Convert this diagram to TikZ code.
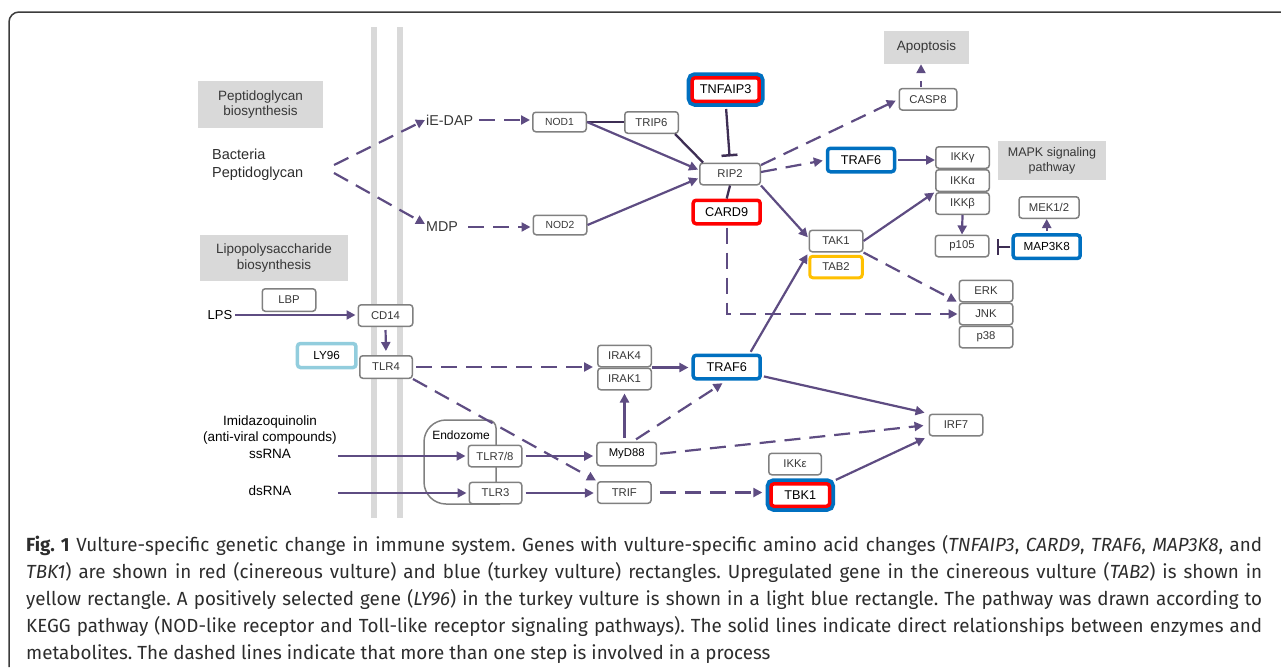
\documentclass[tikz,border=0pt]{standalone}
\usepackage{fontspec}
\setmainfont{Liberation Sans}
\newfontfamily\capfont[FakeStretch=0.99]{Fira Sans}
\usepackage{tikz}
\usetikzlibrary{arrows.meta,calc,positioning}
\definecolor{pathpurple}{RGB}{94,76,130}
\definecolor{inhibdark}{RGB}{62,46,84}
\definecolor{boxgray}{RGB}{128,128,128}
\definecolor{genegray}{RGB}{55,55,55}
\definecolor{bandgray}{RGB}{217,217,217}
\definecolor{framegray}{RGB}{60,60,60}
\definecolor{captext}{RGB}{45,45,45}
\definecolor{vulred}{RGB}{255,0,0}
\definecolor{vulblue}{RGB}{0,112,192}
\definecolor{vulyellow}{RGB}{255,192,0}
\definecolor{lyblue}{RGB}{146,205,221}
\newcommand{\fsize}[2]{\fontsize{#1}{#2}\selectfont}
\tikzset{%
	gene/.style     = {draw=boxgray, line width=1.5pt, fill=white, rounded corners=3pt, minimum width=53.5pt, minimum height=21.5pt, inner sep=0pt, text=genegray, font=\fsize{11.3}{13}}, % KEGG box
	redgene/.style  = {gene, draw=vulred, line width=3.5pt, text=black, minimum width=67pt, minimum height=23.5pt, font=\fsize{12.7}{14}}, % cinereous vulture
	bluegene/.style = {redgene, draw=vulblue}, % turkey vulture
	bothgene/.style = {redgene, preaction={draw=vulblue, line width=11pt}}, % both
	goldgene/.style = {gene, draw=vulyellow, line width=3pt, minimum width=52.5pt}, % upregulated
	lygene/.style   = {gene, draw=lyblue, line width=3.5pt, minimum width=58.5pt, minimum height=24pt, text=black, font=\fsize{11.7}{13}}, % positively selected
	mapbox/.style   = {fill=bandgray, inner sep=0pt, align=center, text=genegray, font=\fsize{13.5}{15.7}}, % pathway map
	lbl/.style      = {inner sep=1pt, text=black, font=\fsize{13.5}{16.7}}, % plain label
	flow/.style     = {pathpurple, line width=2.2pt, -{Triangle[length=9pt,width=9pt]}},
	dflow/.style    = {flow, dash pattern=on 16pt off 9pt},
	link/.style     = {inhibdark, line width=2.3pt},
	inhibit/.style  = {link, -{Bar[width=16pt,line width=2.5pt]}},
	caption/.style  = {anchor=north west, inner sep=0pt, align=left, text=captext, font=\capfont\fsize{19}{27}\frenchspacing},
}
\begin{document}
\begin{tikzpicture}[x=1pt,y=-1pt,node distance=23pt]
	\useasboundingbox (0,0) rectangle (1281,667);
	\draw [framegray, line width=1.5pt, rounded corners=10pt] (9,667) -- (9,12) -- (1281,12);
	% membrane
	\fill [bandgray] (371,27) rectangle (377,518);
	\fill [bandgray] (397,27) rectangle (403,518);
	% endozome
	\draw [boxgray, line width=1.5pt] (496,490) [rounded corners=8pt] -- (496,420) [rounded corners=22pt] -- (424,420) -- (424,504) -- (500,504);
	\node [lbl, font=\fsize{12}{14}] (endo) at (461,435) {Endozome};

	% pathway maps
	\node [mapbox, minimum width=125pt, minimum height=47pt] (pepmap) at (260.5,104.5) {Peptidoglycan\\biosynthesis};
	\node [mapbox, minimum width=148pt, minimum height=46pt, font=\fsize{13.5}{16}] (lipomap) at (274,258) {Lipopolysaccharide\\biosynthesis};
	\node [mapbox, minimum width=85pt, minimum height=33pt] (apop) at (926.5,47.5) {Apoptosis};
	\node [mapbox, minimum width=108pt, minimum height=39pt, font=\fsize{12.5}{15}] (mapk) at (1052,160.5) {MAPK signaling\\pathway};

	% ligands
	\node [lbl, anchor=west, align=left, text=captext, font=\fsize{14.5}{18}] (bact) at (211,165) {Bacteria\\Peptidoglycan};
	\node [lbl, anchor=west, text=genegray, font=\fsize{14.3}{16}] (iedap) at (425,120) {iE-DAP};
	\node [lbl, anchor=west, text=genegray, font=\fsize{14.3}{16}] (mdp) at (425,227) {MDP};
	\node [lbl, font=\fsize{13}{15}] (lps) at (220,315) {LPS};
	\node [lbl, align=center] (imid) at (270,437) {Imidazoquinolin\\(anti-viral compounds)\\ssRNA};
	\node [lbl] (dsrna) at (270,491) {dsRNA};

	% NOD-like receptor side
	\node [gene, minimum height=19.5pt, font=\fsize{10.3}{12}] (nod1) at (559.5,122) {NOD1};
	\node [gene, minimum height=19.5pt, font=\fsize{10.3}{12}] (nod2) at (560,225) {NOD2};
	\node [gene] (trip6) at (651.5,122.5) {TRIP6};
	\node [bothgene] (tnfaip3) at (725.7,89.5) {TNFAIP3};
	\node [gene, minimum width=60.5pt] (rip2) at (730,174) {RIP2};
	\node [redgene] (card9) at (726.7,212) {CARD9};
	\node [gene, minimum width=57.5pt] (casp8) at (928,99.3) {CASP8};
	\node [bluegene] (traf6a) at (861,160) {TRAF6};
	\node [gene] (ikkg) at (962.5,157.5) {IKKγ};
	\node [gene] (ikka) [below of=ikkg] {IKKα};
	\node [gene] (ikkb) [below of=ikka] {IKKβ};
	\node [gene] (p105) at (962,246) {p105};
	\node [gene, minimum width=60pt] (mek) at (1049,207.5) {MEK1/2};
	\node [bluegene, font=\fsize{11.7}{13}] (map3k8) at (1046.7,246.7) {MAP3K8};
	\node [gene] (tak1) at (836,241) {TAK1};
	\node [goldgene] (tab2) at (836,267) {TAB2};
	\node [gene] (erk) at (986,291) {ERK};
	\node [gene] (jnk) [below of=erk] {JNK};
	\node [gene] (p38) [below of=jnk] {p38};

	% Toll-like receptor side
	\node [gene, minimum height=22.5pt] (lbp) at (289,300) {LBP};
	\node [gene, minimum width=54.5pt] (cd14) at (385.5,315.5) {CD14};
	\node [lygene] (ly96) at (326.7,355.5) {LY96};
	\node [gene, minimum width=52.5pt, minimum height=22.5pt] (tlr4) at (386,367) {TLR4};
	\node [gene] (tlr78) at (495,456) {TLR7/8};
	\node [gene, minimum width=52.5pt] (tlr3) at (495.5,493) {TLR3};
	\node [gene] (irak4) at (624.5,356) {IRAK4};
	\node [gene] (irak1) [below of=irak4] {IRAK1};
	\node [bluegene] (traf6b) at (726.7,367) {TRAF6};
	\node [gene, minimum width=59.5pt, minimum height=23.5pt, text=black] (myd88) at (626.7,454) {MyD88};
	\node [gene] (trif) at (624.3,492.5) {TRIF};
	\node [gene, minimum width=52.5pt] (ikke) at (795,464) {IKKε};
	\node [bothgene, minimum width=58.5pt, minimum height=22.5pt, preaction={draw=vulblue, line width=9pt}] (tbk1) at (800.3,495) {TBK1};
	\node [gene] (irf7) at (956,425) {IRF7};

	% connectors, NOD side
	\draw [dflow] ([xshift=123pt]bact.west) -- (iedap.west);
	\draw [dflow] ([shift={(123pt,-8pt)}]bact.west) -- ([yshift=3pt]mdp.west);
	\draw [dflow, shorten <=5pt, shorten >=2pt] (iedap.east) -- (iedap.east -| nod1.west);
	\draw [dflow, shorten <=9pt, shorten >=2pt] (mdp.east) -- (mdp.east -| nod2.west);
	\draw [link] (nod1.east) -- (nod1.east -| trip6.west);
	\draw [link] ([xshift=-4pt]trip6.south east) -- ([xshift=4pt]rip2.north west);
	\draw [flow, shorten >=1pt] (nod1.east) -- ([yshift=4pt]rip2.west);
	\draw [flow, shorten >=1pt] (nod2.east) -- ([yshift=-4pt]rip2.west);
	\draw [inhibit, shorten <=6pt, shorten >=6pt] (tnfaip3.south) -- (rip2.north);
	\draw [link] (rip2.south) -- (card9.north);
	\draw [dflow, shorten <=2pt, shorten >=1pt] (card9.south) |- (jnk.west);
	\draw [dflow, shorten >=3pt] ([yshift=9pt]rip2.east) -- (casp8.west);
	\draw [dflow, shorten >=3pt] ([yshift=2pt]rip2.east) -- (traf6a.west);
	\coordinate (casptop) at ([xshift=-7pt]casp8.north);
	\draw [flow, dash pattern=on 6pt off 10pt, shorten <=1pt] (casptop) -- (casptop |- apop.south);
	\draw [flow, shorten <=2pt] (traf6a.east) -- (traf6a.east -| ikkg.west);
	\draw [flow, shorten >=1pt] (rip2.south east) -- ([yshift=3pt]tak1.west);
	\draw [flow, shorten >=1pt] (tak1.east) -- (ikka.south west);
	\draw [dflow, shorten >=2pt] (tak1.south east) -- (erk.south west);
	\draw [flow] (ikkb.south) -- (p105.north);
	\draw [inhibit, shorten <=1pt, shorten >=7pt] (map3k8.west) -- (map3k8.west -| p105.east);
	\draw [flow, shorten <=2pt] (map3k8.north) -- (mek.south -| map3k8.north);

	% connectors, Toll side
	\draw [flow, shorten <=2pt, shorten >=2pt] (lps.east) -- (lps.east -| cd14.west);
	\draw [flow, shorten <=3pt, shorten >=4pt] (cd14.south) -- (tlr4.north);
	\draw [dflow, shorten <=3pt, shorten >=4pt] (tlr4.east) -- (tlr4.east -| irak1.west);
	\draw [dflow, shorten >=1pt] (tlr4.south east) -- (trif.north west);
	\draw [flow, shorten >=2pt] (imid.east |- tlr78.west) -- (tlr78.west);
	\draw [flow, shorten >=2pt] (imid.east |- tlr3.west) -- (tlr3.west);
	\draw [flow, shorten <=3pt, shorten >=3pt] (tlr78.east) -- (tlr78.east -| myd88.west);
	\draw [flow, shorten <=3pt, shorten >=3pt] (tlr3.east) -- (tlr3.east -| trif.west);
	\draw [flow, shorten <=4pt, shorten >=3pt] (irak1.south |- myd88.north) -- (irak1.south);
	\draw [flow, shorten >=3pt] (irak1.north east) -- (irak1.north east -| traf6b.west);
	\draw [dflow, shorten <=4pt, shorten >=5pt] ([xshift=6pt]myd88.north) -- (traf6b.south);
	\draw [dflow, shorten <=3pt, shorten >=5pt] (myd88.east) -- (irf7.west);
	\draw [flow, shorten <=2pt, shorten >=4pt] ([yshift=-9pt]traf6b.east) -- (irf7.north west);
	\draw [flow, shorten <=2pt, shorten >=2pt] ([xshift=23pt]traf6b.north) -- (tak1.south west);
	\draw [dflow, shorten <=8pt, shorten >=7pt] (trif.east) -- (trif.east -| tbk1.west);
	\draw [flow, shorten <=5pt, shorten >=4pt] (tbk1.north east) -- (irf7.south west);

	% caption
	\node [caption] (cap) at (26,535) {%
		\makebox[1236pt][s]{\textbf{Fig. 1} Vulture-specific genetic change in immune system. Genes with vulture-specific amino acid changes (\textit{TNFAIP3}, \textit{CARD9}, \textit{TRAF6}, \textit{MAP3K8}, and}\\
		\makebox[1236pt][s]{\textit{TBK1}) are shown in red (cinereous vulture) and blue (turkey vulture) rectangles. Upregulated gene in the cinereous vulture (\textit{TAB2}) is shown in}\\
		\makebox[1236pt][s]{yellow rectangle. A positively selected gene (\textit{LY96}) in the turkey vulture is shown in a light blue rectangle. The pathway was drawn according to}\\
		\makebox[1236pt][s]{KEGG pathway (NOD-like receptor and Toll-like receptor signaling pathways). The solid lines indicate direct relationships between enzymes and}\\
		metabolites. The dashed lines indicate that more than one step is involved in a process};
\end{tikzpicture}
\end{document}
